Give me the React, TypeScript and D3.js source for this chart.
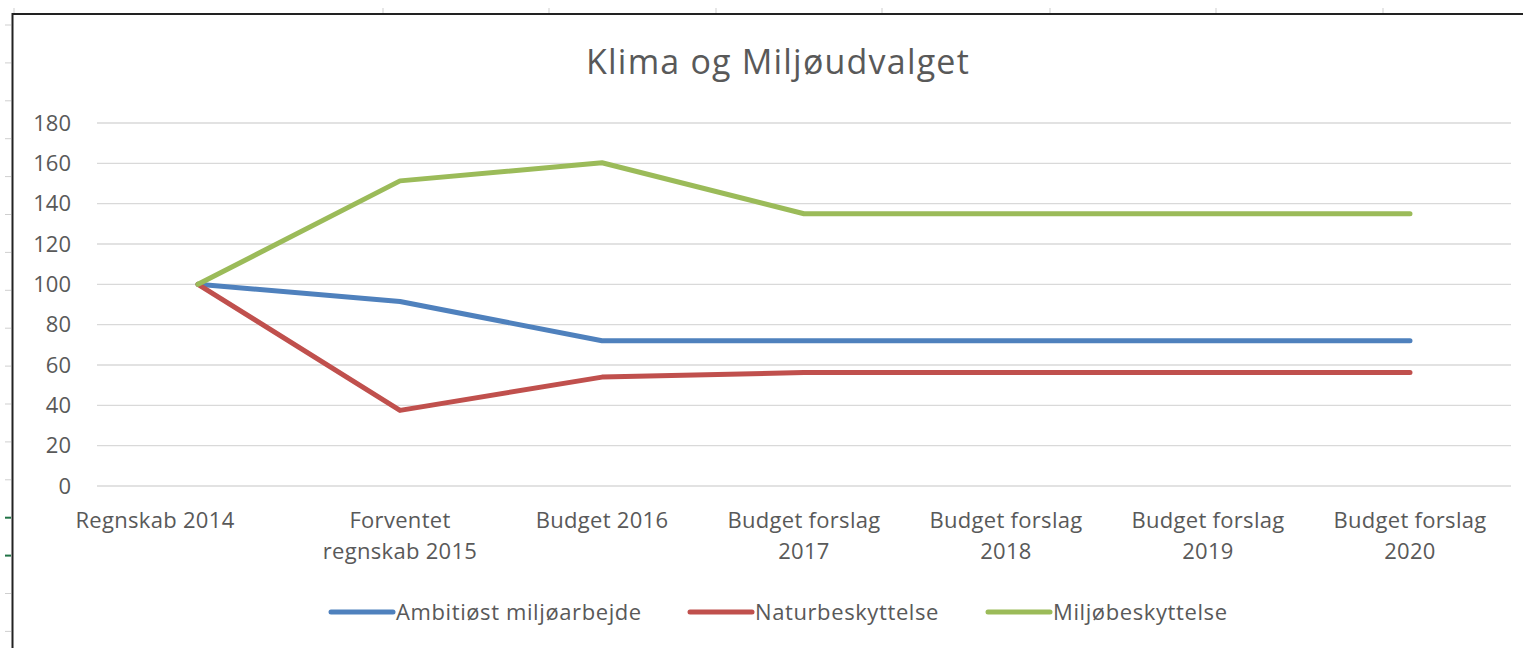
import React from "react";
import * as d3 from "d3";

const title = "Klima og Miljøudvalget";
const categories = [
  "Regnskab 2014",
  "Forventet\nregnskab 2015",
  "Budget 2016",
  "Budget forslag\n2017",
  "Budget forslag\n2018",
  "Budget forslag\n2019",
  "Budget forslag\n2020",
];
const yTicks = [0, 20, 40, 60, 80, 100, 120, 140, 160, 180];
const seriesNames = ["Ambitiøst miljøarbejde", "Naturbeskyttelse", "Miljøbeskyttelse"];
const ambitiost = [100, 91.5, 72, 72, 72, 72, 72];
const natur = [100, 37.5, 54, 56.3, 56.3, 56.3, 56.3];
const miljo = [100, 151.3, 160.3, 135, 135, 135, 135];
const colors = ["#4F81BD", "#C0504D", "#9BBB59"];

const W = 1523;
const H = 648;
const FONT = "'Open Sans', 'Noto Sans', sans-serif";
const TXT = "#595959";

export default function App() {
  const x = d3.scalePoint<string>().domain(categories).range([97, 1511]).padding(0.5);
  const y = d3.scaleLinear().domain([0, 180]).range([486, 123]);
  const line = d3
    .line<number>()
    .x((_, i) => x(categories[i]) as number)
    .y((d) => y(d));
  const series = [ambitiost, natur, miljo];

  const leftTicks = d3.range(17).map((i) => 25 + i * 37.9);
  const topTicks = [14, 383, 549, 716, 882, 1050, 1216, 1383];
  const legendX = [331, 690, 988];

  return (
    <svg width={W} height={H} style={{ position: "absolute", left: 0, top: 0, background: "#fff" }}>
      <rect x={0} y={0} width={W} height={H} fill="#fff" />
      {leftTicks.map((t, i) => (
        <line
          key={"lt" + i}
          x1={5}
          x2={11}
          y1={t}
          y2={t}
          stroke={i === 13 || i === 14 ? "#217346" : "#cfcfcf"}
          strokeWidth={i === 13 || i === 14 ? 2 : 1}
        />
      ))}
      {topTicks.map((t, i) => (
        <line key={"tt" + i} x1={t} x2={t} y1={8} y2={14} stroke="#cfcfcf" strokeWidth={1} />
      ))}
      <line x1={12.5} x2={W} y1={14} y2={14} stroke="#222" strokeWidth={2} />
      <line x1={12.5} x2={12.5} y1={13} y2={H} stroke="#222" strokeWidth={2} />

      <text
        x={778}
        y={74}
        textAnchor="middle"
        fontFamily={FONT}
        fontSize={34}
        letterSpacing={1.2}
        fill={TXT}
      >
        {title}
      </text>

      {yTicks.map((t) => (
        <g key={"g" + t}>
          <line x1={97} x2={1511} y1={y(t)} y2={y(t)} stroke="#d9d9d9" strokeWidth={1.3} />
          <text
            x={71}
            y={y(t)}
            dy="0.35em"
            textAnchor="end"
            fontFamily={FONT}
            fontSize={22}
            fill={TXT}
          >
            {t}
          </text>
        </g>
      ))}

      {categories.map((c, i) => {
        const lines = c.split("\n");
        const cx = (x(c) as number) + (i === 0 ? -43 : 0);
        return (
          <text
            key={c}
            textAnchor="middle"
            fontFamily={FONT}
            fontSize={22}
            letterSpacing={0.3}
            fill={TXT}
          >
            {lines.map((l, j) => (
              <tspan key={j} x={cx} y={520 + j * 31.5} dy="0.35em">
                {l}
              </tspan>
            ))}
          </text>
        );
      })}

      {series.map((s, i) => (
        <path
          key={"s" + i}
          d={line(s) || ""}
          fill="none"
          stroke={colors[i]}
          strokeWidth={5}
          strokeLinejoin="round"
          strokeLinecap="round"
        />
      ))}

      {seriesNames.map((n, i) => (
        <g key={"l" + i}>
          <line
            x1={legendX[i]}
            x2={legendX[i] + 62}
            y1={612}
            y2={612}
            stroke={colors[i]}
            strokeWidth={5}
            strokeLinecap="round"
          />
          <text
            x={legendX[i] + 65}
            y={612}
            dy="0.35em"
            fontFamily={FONT}
            fontSize={22}
            letterSpacing={0.6}
            fill={TXT}
          >
            {n}
          </text>
        </g>
      ))}
    </svg>
  );
}
